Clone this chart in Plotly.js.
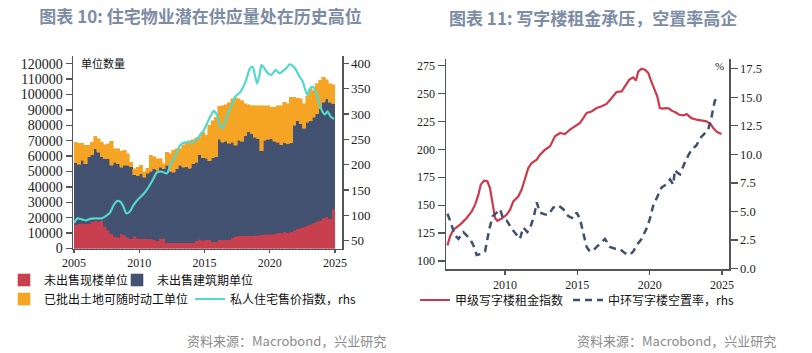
<!DOCTYPE html>
<html>
<head>
<meta charset="utf-8">
<script src="https://cdn.plot.ly/plotly-3.0.1.min.js"></script>
<style>html,body{margin:0;padding:0;background:#fff;}#chart{width:812px;height:353px;}</style>
</head>
<body>
<div id="chart"></div>
<script>
// ---------- Chart 10: Hong Kong residential potential supply (quarterly, 2005Q1 - 2024Q4) ----------
const supplyStartYear = 2005;
const unsoldCompleted = [15500,16000,16400,16000,16200,17500,18000,17800,18500,14500,11700,9600,7800,7400,9600,8500,7400,6400,7800,6800,
  6400,6800,6400,6400,5700,4900,6400,6800,3800,3800,3800,3800,3800,3800,3800,3800,3800,5100,6000,5300,
  5800,5800,4500,4500,5600,5600,5600,5600,7100,8000,8200,8200,8200,8200,8200,8600,8600,8800,9200,9200,
  9200,9700,10300,10300,10800,10300,10900,11800,12800,13500,14100,15000,15600,16700,17700,18400,20000,20600,19300,25800];
const underConstruction = [40100,38600,40800,39000,43500,43500,46800,44800,41200,43700,46500,44300,48200,47600,43200,45400,46500,46800,40200,40600,
  42100,39500,42500,43800,46000,45800,46400,44900,50100,46400,45800,47900,50100,49000,49200,48200,51200,50900,55000,53700,
  52800,51200,54500,55100,65300,63400,64000,62900,61900,59000,62000,61400,65100,67700,66300,63700,62600,54700,61000,61700,
  62100,59900,58700,57000,57800,57700,57700,68100,70300,67500,64000,67000,67500,68600,69700,72200,75000,76500,75700,68100];
const landReady = [13400,13800,11200,11900,7200,8000,8000,8600,9300,9300,9700,15800,8800,9800,10400,9800,7600,2800,3700,5400,
  5400,3700,3100,10200,8000,7500,5400,3300,8700,11300,14100,13100,10900,14100,16000,18100,15500,15800,11700,16500,
  14800,22900,24100,25700,21500,23800,23700,26000,28200,30600,27000,26500,20700,17400,18300,20500,21600,29300,22600,21900,
  20400,22100,23800,25500,26400,26000,29700,18400,14500,16200,15900,16900,20600,17300,19500,18500,16300,12600,11900,12300];
const priceYears = [2005.00,2005.26,2005.59,2005.92,2006.23,2006.62,2007.13,2007.51,2007.77,2008.03,2008.28,2008.54,2008.79,2009.00,2009.26,2009.56,2009.95,
  2010.33,2010.72,2011.10,2011.36,2011.74,2012.13,2012.38,2012.64,2012.90,2013.15,2013.54,2013.92,2014.31,2014.56,2014.70,2014.95,
  2015.20,2015.45,2015.71,2015.96,2016.16,2016.34,2016.59,2016.84,2017.10,2017.35,2017.73,2017.98,2018.23,2018.48,2018.69,2018.86,
  2019.04,2019.24,2019.37,2019.62,2019.87,2020.13,2020.45,2020.76,2021.01,2021.26,2021.52,2021.77,2022.02,2022.27,2022.53,2022.73,
  2022.90,2023.08,2023.28,2023.54,2023.79,2024.04,2024.24,2024.42,2024.67,2024.92];
const priceIndex = [85,94,92,90,93,94,94,100,106,120,128,127,117,104,107,120,133,
  142,156,173,185,186,183,200,212,226,239,244,244,247,255,260,268,
  282,295,306,298,278,272,285,305,318,334,343,354,370,390,393,377,
  360,380,397,389,380,377,387,380,385,390,398,395,387,374,364,347,
  337,350,354,344,321,305,299,305,295,290];
const tickYearsLeft = [2005,2010,2015,2020,2025];

// ---------- Chart 11: office rents and Central vacancy ----------
const rentYears = [2006.02,2006.20,2006.43,2006.66,2006.89,2007.12,2007.35,2007.70,2007.93,2008.16,2008.32,2008.55,2008.78,2008.96,2009.15,2009.31,2009.47,2009.77,
  2010.12,2010.35,2010.57,2010.92,2011.15,2011.38,2011.61,2011.84,2012.19,2012.42,2012.76,2013.11,2013.45,2013.80,2014.14,2014.49,2014.83,2015.18,
  2015.41,2015.64,2015.98,2016.33,2016.68,2017.02,2017.37,2017.71,2018.06,2018.29,2018.59,2018.86,2019.05,2019.21,2019.44,2019.67,2019.90,
  2020.06,2020.29,2020.52,2020.70,2020.89,2021.12,2021.35,2021.51,2021.74,2022.04,2022.32,2022.55,2022.89,2023.24,2023.58,2023.93,2024.20,2024.39,2024.66,2024.96];
const primeRent = [114,122,128,130,132.5,135.5,138.5,144.5,150.5,159.4,168.4,172,171.4,165.4,150.5,138.5,136,138,
  141.6,146,153.4,158,164,172.9,183.3,187.8,190.8,195.3,199.7,202.7,211.7,214.7,213.8,217.7,220.6,223.7,
  228.1,232.6,234,237.1,238.6,240.7,246,251.4,252,256.5,262.5,264.5,261.7,269.9,272.3,271.4,268.5,
  262.5,255,247.5,237.1,236.6,237,236.5,234.7,233.5,231,230.4,231.6,228,226.6,225.7,225.1,222.8,219.2,215.6,213.8];
const vacancyYears = [2006.02,2006.16,2006.55,2006.78,2007.12,2007.58,2007.81,2008.04,2008.39,2008.62,2008.92,2009.15,2009.42,2009.65,2009.88,
  2010.12,2010.46,2010.80,2011.03,2011.26,2011.54,2011.72,2012.00,2012.19,2012.42,2012.76,2012.99,2013.34,2013.68,2014.03,2014.37,2014.72,2014.95,
  2015.18,2015.41,2015.64,2015.87,2016.10,2016.33,2016.56,2016.91,2017.25,2017.60,2017.94,2018.29,2018.63,2018.86,2019.09,2019.44,2019.78,
  2020.01,2020.24,2020.52,2020.82,2021.12,2021.40,2021.63,2021.74,2021.90,2022.09,2022.32,2022.55,2022.89,2023.24,2023.47,2023.81,2024.04,
  2024.27,2024.39,2024.50,2024.73];
const centralVacancy = [4.8,4.35,2.9,2.6,3.2,2.6,2.05,1.2,1.3,1.5,3.5,4.6,4.9,5.2,4.35,
  4.2,3.5,2.9,2.6,3.6,3.2,3.5,4.6,5.8,4.9,4.75,4.7,5.35,5.55,5.2,4.6,4.4,4.9,
  4.35,3.0,1.9,1.5,1.6,1.9,2.15,2.6,1.9,1.75,1.7,1.35,1.2,1.5,2.05,2.6,3.5,
  4.35,5.5,6.35,7.1,7.35,7.8,7.35,8.65,8.4,8.25,8.95,9.65,10.4,10.8,11.4,11.8,12.15,
  13.25,13.95,14.7,15.05];
const tickYearsRight = [2010,2015,2020,2025];

// ---------- build ----------
const W = 812, H = 353;
const px = v => v / W;
const py = v => 1 - v / H;

const quarterX = unsoldCompleted.map((_, i) => supplyStartYear + 0.125 + 0.25 * i);

const cRed = '#c8404f', cNavy = '#435270', cOrange = '#f5a424', cCyan = '#52d8cc';
const cRent = '#cc3a4c', cVac = '#3f4f6e';

const cjk = '"Noto Sans CJK SC", "Noto Sans", sans-serif';
const serif = '"Liberation Serif", "DejaVu Serif", serif';
const legendFont = {family: cjk, size: 12, color: '#111'};

function bar(y, color, name, legend) {
  return {type: 'bar', x: quarterX, y: y, width: 0.25, name: name, legend: legend,
    marker: {color: color, line: {color: color, width: 0.6}}, xaxis: 'x', yaxis: 'y', hoverinfo: 'skip'};
}

const traces = [
  bar(unsoldCompleted, cRed, '未出售现楼单位', 'legend'),
  bar(underConstruction, cNavy, '未出售建筑期单位', 'legend2'),
  bar(landReady, cOrange, '已批出土地可随时动工单位', 'legend3'),
  {type: 'scatter', mode: 'lines', x: priceYears, y: priceIndex, name: '私人住宅售价指数，rhs', legend: 'legend4',
   line: {color: cCyan, width: 2.2, shape: 'spline', smoothing: 0.6}, xaxis: 'x', yaxis: 'y2'},
  {type: 'scatter', mode: 'lines', x: rentYears, y: primeRent, name: '甲级写字楼租金指数', legend: 'legend5',
   line: {color: cRent, width: 2.2}, xaxis: 'x2', yaxis: 'y3'},
  {type: 'scatter', mode: 'lines', x: vacancyYears, y: centralVacancy, name: '中环写字楼空置率，rhs', legend: 'legend6',
   line: {color: cVac, width: 2.5, dash: '7px,5px'}, xaxis: 'x2', yaxis: 'y4'}
];

const axisCommon = {showgrid: false, zeroline: false, showline: true, linecolor: '#555', linewidth: 1.5,
  ticks: 'outside', tickcolor: '#555', tickwidth: 1.3, fixedrange: true};

function leg(x, y) {
  return {x: px(x), y: py(y), xanchor: 'left', yanchor: 'middle', orientation: 'h',
    bgcolor: 'rgba(0,0,0,0)', borderwidth: 0, font: legendFont, itemwidth: 30};
}

const layout = {
  width: W, height: H, margin: {l: 0, r: 0, t: 0, b: 0},
  paper_bgcolor: '#fff', plot_bgcolor: '#fff',
  barmode: 'stack', bargap: 0, showlegend: true,
  title: {text: '<b>图表 10: 住宅物业潜在供应量处在历史高位</b>', x: px(200.5), xanchor: 'center', y: py(17.5), yanchor: 'middle',
    font: {family: cjk, size: 17, color: '#7d8ca5'}},
  xaxis: Object.assign({}, axisCommon, {domain: [px(73), px(342)], range: [2004.92, 2025.54], anchor: 'y',
    tickvals: tickYearsLeft, ticklen: 3, tickfont: {family: serif, size: 12, color: '#222'}}),
  yaxis: Object.assign({}, axisCommon, {domain: [py(248.5), py(56)], range: [0, 125000], anchor: 'x',
    tickvals: [0,10000,20000,30000,40000,50000,60000,70000,80000,90000,100000,110000,120000], tickformat: 'd',
    ticklen: 6, tickfont: {family: serif, size: 14, color: '#222'}}),
  yaxis2: Object.assign({}, axisCommon, {overlaying: 'y', side: 'right', anchor: 'x', range: [34.6, 414.4],
    tickvals: [50,100,150,200,250,300,350,400], ticklen: 5, tickfont: {family: serif, size: 13, color: '#222'}}),
  xaxis2: Object.assign({}, axisCommon, {domain: [px(446), px(729)], range: [2005.92, 2025.48], anchor: 'y3',
    tickvals: tickYearsRight, ticklen: 4, tickfont: {family: serif, size: 12, color: '#222'}}),
  yaxis3: Object.assign({}, axisCommon, {domain: [py(269), py(59)], range: [92.8, 281], anchor: 'x2',
    tickvals: [100,125,150,175,200,225,250,275], ticklen: 7, tickfont: {family: serif, size: 12, color: '#222'}}),
  yaxis4: Object.assign({}, axisCommon, {overlaying: 'y3', side: 'right', anchor: 'x2', range: [-0.03, 18.34],
    tickvals: [0,2.5,5,7.5,10,12.5,15,17.5], tickformat: '.1f', ticklen: 7, tickfont: {family: serif, size: 12.5, color: '#222'}}),
  legend: leg(4, 280),
  legend2: leg(117, 280),
  legend3: leg(4, 299),
  legend4: leg(190, 299),
  legend5: leg(415, 300),
  legend6: leg(568, 300),
  annotations: [
    {text: '<b>图表 11: 写字楼租金承压，空置率高企</b>', xref: 'paper', yref: 'paper', x: px(592.5), y: py(17.5),
     xanchor: 'center', yanchor: 'middle', showarrow: false, font: {family: cjk, size: 17, color: '#7d8ca5'}},
    {text: '单位数量', xref: 'paper', yref: 'paper', x: px(79), y: py(63), xanchor: 'left', yanchor: 'middle',
     showarrow: false, font: {family: cjk, size: 11, color: '#111'}},
    {text: '%', xref: 'paper', yref: 'paper', x: px(719), y: py(66), xanchor: 'center', yanchor: 'middle',
     showarrow: false, font: {family: serif, size: 11, color: '#222'}},
    {text: '资料来源：Macrobond，兴业研究', xref: 'paper', yref: 'paper', x: px(388), y: py(340.5), xanchor: 'right', yanchor: 'middle',
     showarrow: false, font: {family: cjk, size: 13, color: '#8a8a8a'}},
    {text: '资料来源：Macrobond，兴业研究', xref: 'paper', yref: 'paper', x: px(778), y: py(340.5), xanchor: 'right', yanchor: 'middle',
     showarrow: false, font: {family: cjk, size: 13, color: '#8a8a8a'}}
  ]
};

Plotly.newPlot('chart', traces, layout, {staticPlot: true, displayModeBar: false});
</script>
</body>
</html>
